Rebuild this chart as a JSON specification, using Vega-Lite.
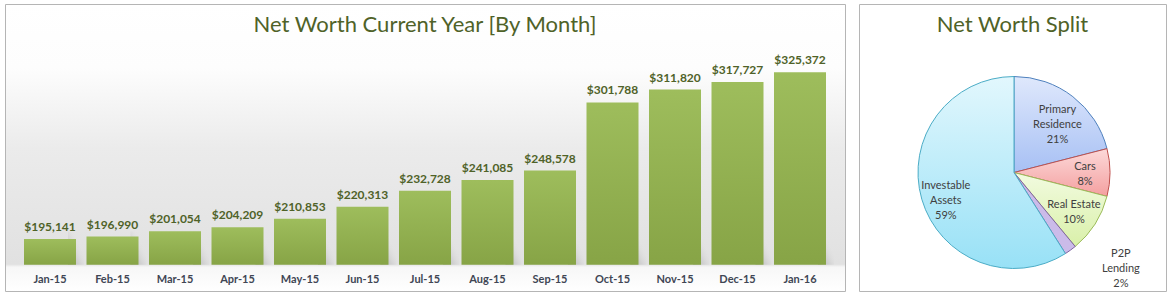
{
  "$schema": "https://vega.github.io/schema/vega-lite/v6.json",
  "background": "#ffffff",
  "padding": {"left": 4, "top": 3, "right": 0, "bottom": 0},
  "spacing": 12,
  "config": {
    "font": "Lato",
    "view": {"stroke": "#b5b5b5", "strokeWidth": 1},
    "title": {"font": "Lato", "fontSize": 22, "fontWeight": "normal", "color": "#4f6228", "anchor": "middle", "baseline": "alphabetic", "offset": -33}
  },
  "hconcat": [
    {
      "title": "Net Worth Current Year [By Month]",
      "width": 840,
      "height": 287,
      "view": {
        "stroke": "#b5b5b5",
        "fill": {
          "gradient": "linear", "x1": 0, "y1": 0, "x2": 0, "y2": 1,
          "stops": [
            {"offset": 0, "color": "#ffffff"},
            {"offset": 0.22, "color": "#fdfdfd"},
            {"offset": 0.5, "color": "#ebebeb"},
            {"offset": 0.905, "color": "#e1e1e1"},
            {"offset": 0.915, "color": "#f7f7f7"},
            {"offset": 1, "color": "#ffffff"}
          ]
        }
      },
      "data": {
        "values": [
          {"month": "Jan-15", "worth": 195141},
          {"month": "Feb-15", "worth": 196990},
          {"month": "Mar-15", "worth": 201054},
          {"month": "Apr-15", "worth": 204209},
          {"month": "May-15", "worth": 210853},
          {"month": "Jun-15", "worth": 220313},
          {"month": "Jul-15", "worth": 232728},
          {"month": "Aug-15", "worth": 241085},
          {"month": "Sep-15", "worth": 248578},
          {"month": "Oct-15", "worth": 301788},
          {"month": "Nov-15", "worth": 311820},
          {"month": "Dec-15", "worth": 317727},
          {"month": "Jan-16", "worth": 325372}
        ]
      },
      "encoding": {
        "x": {
          "field": "month", "type": "nominal", "sort": null,
          "scale": {"paddingInner": 0.168, "paddingOuter": 0.304, "align": 0.5},
          "axis": {"title": null, "domain": false, "ticks": false, "labelAngle": 0, "offset": -21, "labelPadding": 3,
                   "labelFont": "Lato", "labelFontSize": 11, "labelFontWeight": "bold", "labelColor": "#404654"}
        }
      },
      "layer": [
        {
          "mark": {
            "type": "bar", "width": 16, "xOffset": 26,
            "fill": {
              "gradient": "linear", "x1": 0, "y1": 1, "x2": 0.9, "y2": 0.1,
              "stops": [
                {"offset": 0, "color": "#b4b4b4"},
                {"offset": 0.45, "color": "#d6d6d6"},
                {"offset": 0.75, "color": "rgba(225,225,225,0)"},
                {"offset": 1, "color": "rgba(225,225,225,0)"}
              ]
            }
          },
          "encoding": {
            "y": {"datum": 201000, "type": "quantitative", "scale": {"domain": [154450, 378660], "nice": false, "zero": false}, "axis": null},
            "y2": {"datum": 175000}
          }
        },
        {
          "mark": {
            "type": "bar",
            "fill": {
              "gradient": "linear", "x1": 0, "y1": 0, "x2": 0, "y2": 1,
              "stops": [
                {"offset": 0, "color": "#9ebd5c"},
                {"offset": 1, "color": "#87a446"}
              ]
            }
          },
          "encoding": {
            "y": {"field": "worth", "type": "quantitative", "scale": {"domain": [154450, 378660], "nice": false, "zero": false}, "axis": null},
            "y2": {"datum": 175000}
          }
        },
        {
          "mark": {"type": "text", "baseline": "bottom", "dy": -5, "font": "Lato", "fontSize": 12, "fontWeight": "bold", "color": "#4f6228"},
          "encoding": {
            "y": {"field": "worth", "type": "quantitative", "scale": {"domain": [154450, 378660], "nice": false, "zero": false}, "axis": null},
            "text": {"field": "worth", "type": "quantitative", "format": "$,.0f"}
          }
        }
      ]
    },
    {
      "title": "Net Worth Split",
      "width": 307,
      "height": 287,
      "view": {"stroke": "#b5b5b5", "fill": "#ffffff"},
      "data": {
        "values": [
          {"asset": "Primary Residence", "caption": "Primary\nResidence", "share": 21},
          {"asset": "Cars", "caption": "Cars", "share": 8},
          {"asset": "Real Estate", "caption": "Real Estate", "share": 10},
          {"asset": "P2P Lending", "caption": "P2P\nLending", "share": 2},
          {"asset": "Investable Assets", "caption": "Investable\nAssets", "share": 59}
        ]
      },
      "transform": [
        {"window": [{"op": "row_number", "as": "slot"}]},
        {"stack": "share", "groupby": [], "sort": [{"field": "slot"}], "as": ["s0", "s1"]},
        {"calculate": "(datum.s0 + datum.s1) / 2", "as": "mid"},
        {"calculate": "datum.caption + '\\n' + format(datum.share / 100, '.0%')", "as": "label"}
      ],
      "layer": [
        {
          "mark": {"type": "arc", "outerRadius": 96, "xOffset": 1.5, "yOffset": 25, "strokeWidth": 1},
          "encoding": {
            "theta": {"field": "s0", "type": "quantitative", "scale": {"domain": [0, 100], "range": [0, 6.283185]}},
            "theta2": {"field": "s1"},
            "fill": {
              "condition": [
                {"test": "datum.asset === 'Primary Residence'", "value": {"gradient": "linear", "x1": 0, "y1": 0, "x2": 0, "y2": 1, "stops": [{"offset": 0, "color": "#dfe8fc"}, {"offset": 1, "color": "#a7c0f4"}]}},
                {"test": "datum.asset === 'Cars'", "value": {"gradient": "linear", "x1": 0, "y1": 0, "x2": 0, "y2": 1, "stops": [{"offset": 0, "color": "#fcd9d9"}, {"offset": 1, "color": "#f4a0a0"}]}},
                {"test": "datum.asset === 'Real Estate'", "value": {"gradient": "linear", "x1": 0, "y1": 0, "x2": 0, "y2": 1, "stops": [{"offset": 0, "color": "#f2fbe0"}, {"offset": 1, "color": "#d9f0a9"}]}},
                {"test": "datum.asset === 'P2P Lending'", "value": "#cbbbe9"}
              ],
              "value": {"gradient": "linear", "x1": 0, "y1": 0, "x2": 0, "y2": 1, "stops": [{"offset": 0, "color": "#e2f7fd"}, {"offset": 1, "color": "#98e1f6"}]}
            },
            "stroke": {
              "condition": [
                {"test": "datum.asset === 'Primary Residence'", "value": "#4f81bd"},
                {"test": "datum.asset === 'Cars'", "value": "#c0504d"},
                {"test": "datum.asset === 'Real Estate'", "value": "#9bbb59"},
                {"test": "datum.asset === 'P2P Lending'", "value": "#8064a2"}
              ],
              "value": "#4bacc6"
            }
          }
        },
        {
          "transform": [{"filter": "datum.asset !== 'P2P Lending'"}],
          "mark": {"type": "text", "radius": 71, "xOffset": 1.5, "yOffset": 19, "lineBreak": "\n", "lineHeight": 15, "font": "Lato", "fontSize": 11, "color": "#404040"},
          "encoding": {
            "theta": {"field": "mid", "type": "quantitative", "scale": {"domain": [0, 100], "range": [0, 6.283185]}},
            "text": {"field": "label"}
          }
        },
        {
          "transform": [{"filter": "datum.asset === 'P2P Lending'"}],
          "mark": {"type": "text", "radius": 135, "xOffset": 29, "yOffset": -3, "lineBreak": "\n", "lineHeight": 15, "font": "Lato", "fontSize": 11, "color": "#404040"},
          "encoding": {
            "theta": {"field": "mid", "type": "quantitative", "scale": {"domain": [0, 100], "range": [0, 6.283185]}},
            "text": {"field": "label"}
          }
        }
      ]
    }
  ]
}
